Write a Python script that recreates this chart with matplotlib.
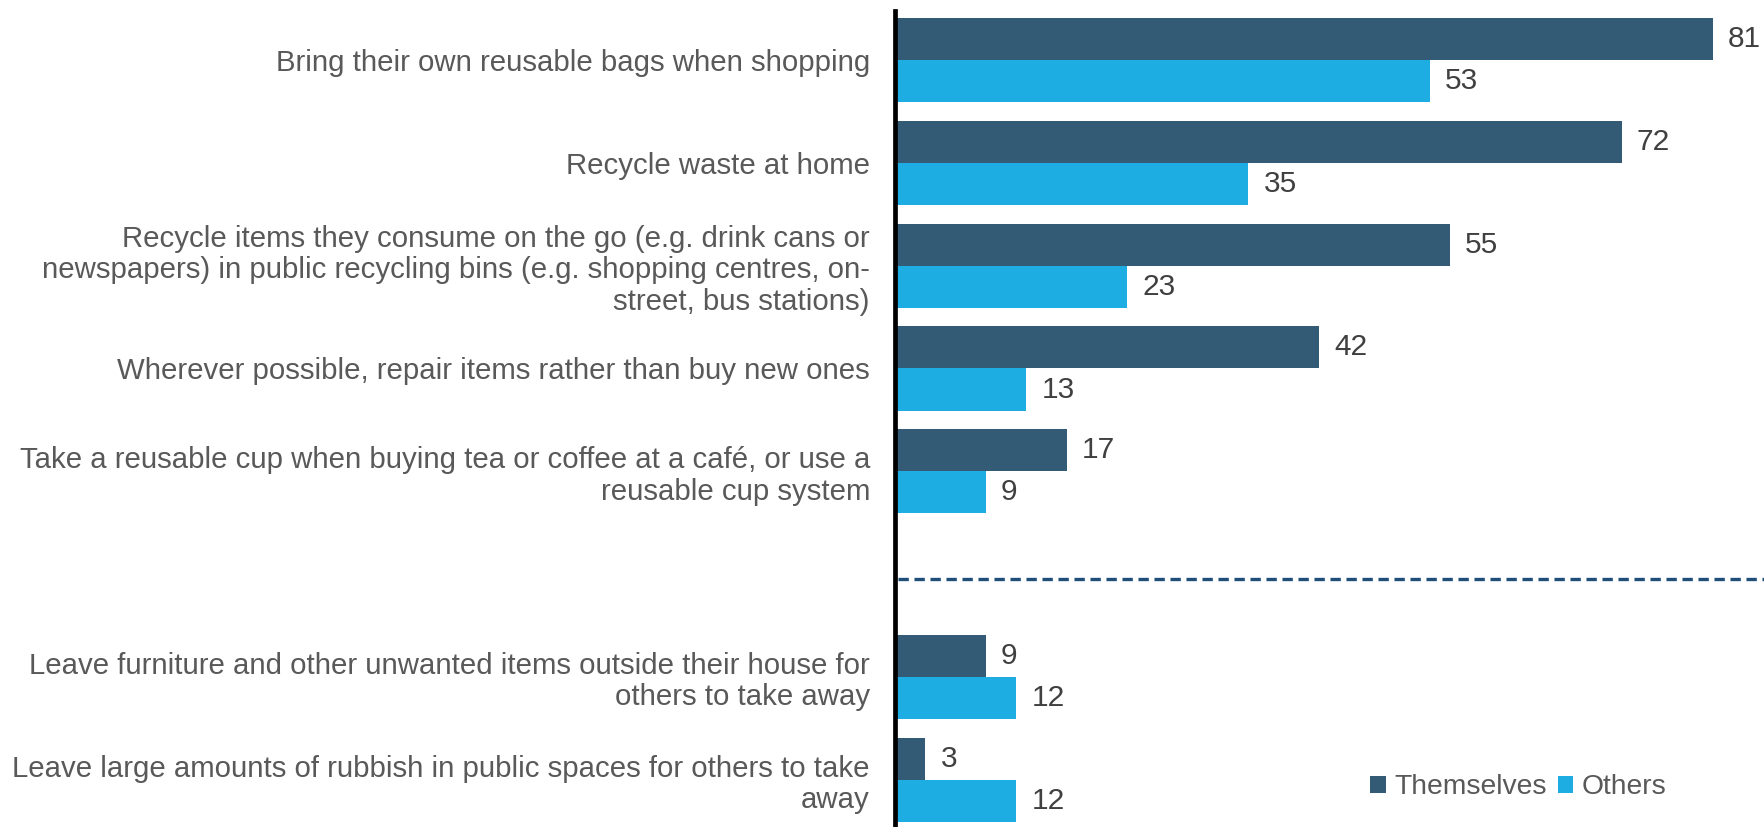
import numpy as np
import matplotlib.pyplot as plt

plt.rcParams['font.family'] = ['Liberation Sans', 'DejaVu Sans']

# behaviours, top to bottom ("" is the spacer row above the dashed divider)
labels = [
    "Bring their own reusable bags when shopping",
    "Recycle waste at home",
    "Recycle items they consume on the go (e.g. drink cans or\nnewspapers) in public recycling bins (e.g. shopping centres, on-\nstreet, bus stations)",
    "Wherever possible, repair items rather than buy new ones",
    "Take a reusable cup when buying tea or coffee at a café, or use a\nreusable cup system",
    "",
    "Leave furniture and other unwanted items outside their house for\nothers to take away",
    "Leave large amounts of rubbish in public spaces for others to take\naway",
]
themselves = [81, 72, 55, 42, 17, None, 9, 3]
others = [53, 35, 23, 13, 9, None, 12, 12]

dark = "#345B75"
light = "#1DADE3"
grey = "#595959"

fig = plt.figure(figsize=(17.65, 8.27), dpi=100)
ax = fig.add_axes([895 / 1765, 0, 1 - 895 / 1765, 1 - 11 / 827])

y = np.arange(len(labels))
h = 0.41
rows = [i for i, v in enumerate(themselves) if v is not None]
t_vals = [themselves[i] for i in rows]
o_vals = [others[i] for i in rows]
ry = np.array(rows, dtype=float)

b1 = ax.barh(ry - h / 2, t_vals, height=h, color=dark, label="Themselves")
b2 = ax.barh(ry + h / 2, o_vals, height=h, color=light, label="Others")

for bars, vals in ((b1, t_vals), (b2, o_vals)):
    for bar, v in zip(bars, vals):
        ax.text(bar.get_width() + 1.5, bar.get_y() + bar.get_height() / 2, str(v),
                va="center", ha="left", fontsize=21.5, color="#404040")

# divider between the two groups of behaviours
ax.axhline(5.05, xmin=0.004, xmax=1, color="#1F4E79", lw=2.4,
           linestyle=(0, (3.1, 1.7)))

ax.set_xlim(0, 86.2)
ax.set_ylim(7.46, -0.477)
ax.set_yticks(y)
ax.set_yticklabels(labels, fontsize=21.2, color=grey, linespacing=1.15)
ax.tick_params(axis="y", length=0, pad=18)
ax.set_xticks([])
for s in ("top", "right", "bottom"):
    ax.spines[s].set_visible(False)
ax.spines["left"].set_linewidth(3.4)
ax.spines["left"].set_color("black")
ax.spines["left"].set_zorder(3)

fig.legend(handles=[b1, b2], loc="center left", bbox_to_anchor=(1370 / 1765, 40 / 827),
           ncol=2, frameon=False, fontsize=20.3, labelcolor=grey,
           handlelength=0.55, handleheight=0.55, handletextpad=0.3,
           columnspacing=0.4, borderpad=0, borderaxespad=0)

fig.savefig("out.png", dpi=100)
